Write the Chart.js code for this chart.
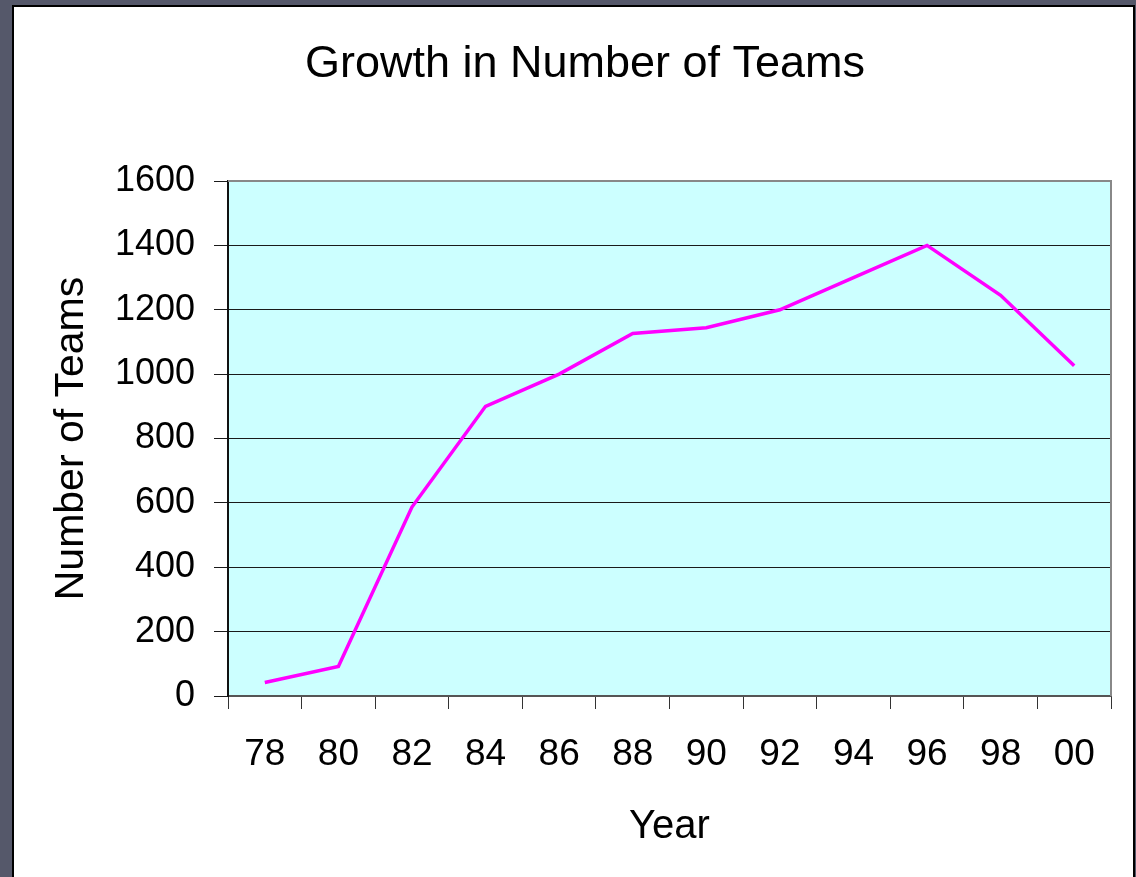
<!DOCTYPE html>
<html>
<head>
<meta charset="utf-8">
<script src="https://cdn.jsdelivr.net/npm/chart.js@4"></script>
<style>
  html, body { margin: 0; padding: 0; }
  body { width: 1136px; height: 877px; background: #55586a; position: relative; overflow: hidden; }
  #panel { position: absolute; left: 12px; top: 5px; width: 1119px; height: 900px; background: #fff; border: 2px solid #000; }
  #wrap { position: absolute; left: 14px; top: 0; width: 1122px; height: 877px; }
</style>
</head>
<body>
<div id="panel"></div>
<div id="wrap"><canvas id="diagram"></canvas></div>
<script>
// donnees
var years = ['78', '80', '82', '84', '86', '88', '90', '92', '94', '96', '98', '00'];
var teams = [42, 92, 587, 900, 1000, 1126, 1144, 1200, 1300, 1400, 1245, 1026];
var yMin = 0, yMax = 1600, yStep = 200;

// fond cyan + bordure grise haut/droite de la zone de tracé
var plotArea = {
  id: 'plotArea',
  beforeDraw: function (chart) {
    var a = chart.chartArea, ctx = chart.ctx;
    ctx.save();
    ctx.fillStyle = '#ccffff';
    ctx.fillRect(a.left, a.top, a.right - a.left, a.bottom - a.top);
    ctx.restore();
  },
  afterDraw: function (chart) {
    var a = chart.chartArea, ctx = chart.ctx;
    ctx.save();
    ctx.strokeStyle = '#888';
    ctx.lineWidth = 2;
    ctx.beginPath();
    ctx.moveTo(a.left, a.top);
    ctx.lineTo(a.right, a.top);
    ctx.lineTo(a.right, a.bottom);
    ctx.stroke();
    ctx.restore();
  }
};

const ctx = document.getElementById('diagram').getContext('2d');

var myChart = new Chart(ctx, {
  type: 'line',
  data: {
    labels: years,
    datasets: [{
      label: 'Number of Teams',
      data: teams,
      borderColor: '#ff00ff',
      borderWidth: 3.5,
      pointRadius: 0,
      tension: 0,
      fill: false
    }]
  },
  plugins: [plotArea],
  options: {
    responsive: true,
    maintainAspectRatio: false,
    animation: false,
    layout: { padding: { left: 45, right: 25, top: 0, bottom: 0 } },
    plugins: {
      legend: { display: false },
      tooltip: { enabled: false },
      title: {
        display: true,
        text: 'Growth in Number of Teams',
        color: '#000',
        font: { family: 'Liberation Sans', size: 45, weight: 'normal', lineHeight: 1.2 },
        padding: { top: 38, bottom: 89 }
      }
    },
    scales: {
      x: {
        offset: true,
        grid: { offset: true, drawOnChartArea: false, drawTicks: true, tickLength: 13, color: '#333', lineWidth: 1 },
        border: { display: true, color: '#555', width: 2 },
        ticks: { color: '#000', padding: 24, font: { family: 'Liberation Sans', size: 37 } },
        title: {
          display: true, text: 'Year', color: '#000',
          font: { family: 'Liberation Sans', size: 40, lineHeight: 1.2 },
          padding: { top: 0, bottom: 26 }
        },
        afterFit: function (scale) { scale.height = 181; }
      },
      y: {
        min: yMin,
        max: yMax,
        grid: { color: '#1a1a1a', lineWidth: 1, tickLength: 14 },
        border: { display: true, color: '#111', width: 2 },
        ticks: {
          stepSize: yStep, color: '#000', padding: 19,
          font: { family: 'Liberation Sans', size: 36 },
          callback: function (v) { return String(v); }
        },
        title: {
          display: true, text: 'Number of Teams', color: '#000',
          font: { family: 'Liberation Sans', size: 41, lineHeight: 0.6 },
          padding: { top: 0.7, bottom: 0 }
        },
        afterFit: function (scale) { scale.width = 169; }
      }
    }
  }
});
</script>
</body>
</html>
